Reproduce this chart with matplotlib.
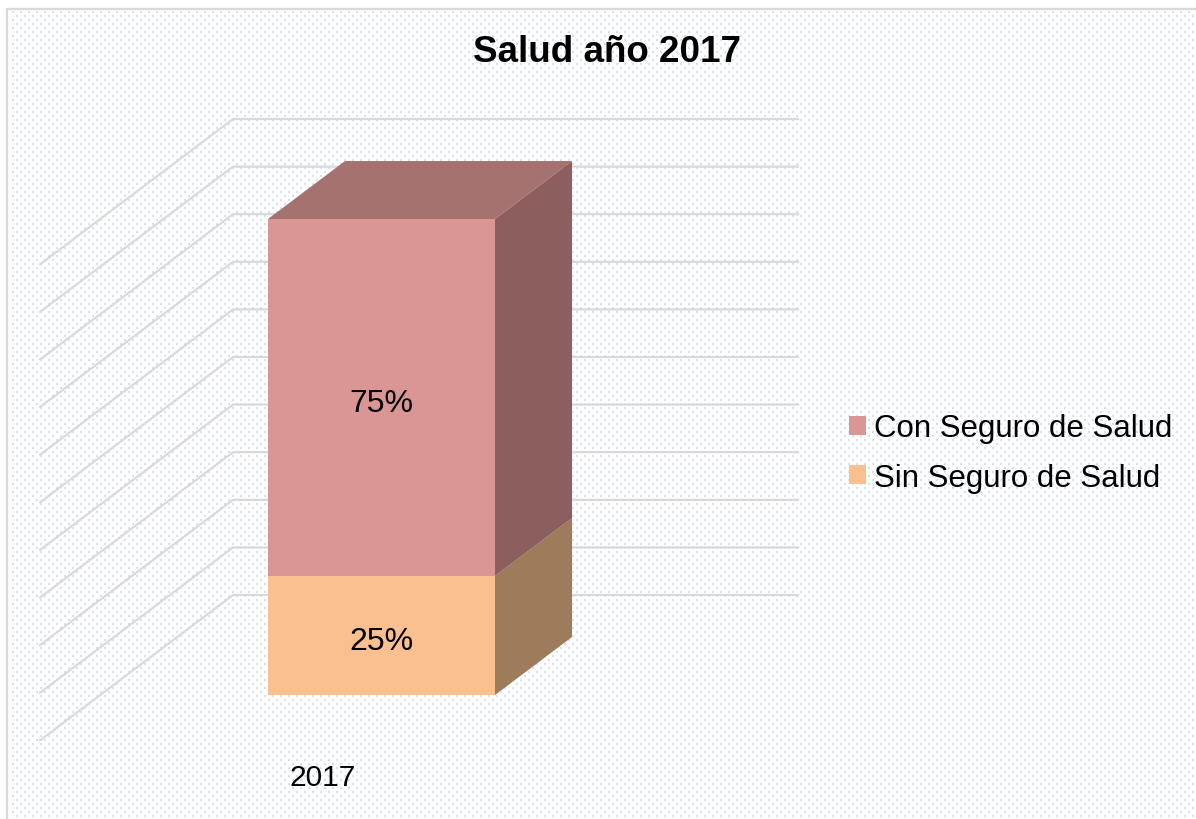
import matplotlib
matplotlib.use('Agg')
import matplotlib.pyplot as plt
import numpy as np
from matplotlib.patches import Polygon, Patch

plt.rcParams['font.family'] = ['Liberation Sans', 'DejaVu Sans']

# ---- data ----
categories = ['2017']
series = ['Sin Seguro de Salud', 'Con Seguro de Salud']
values = [25, 75]
value_labels = ['25%', '75%']
grid_levels = list(range(0, 101, 10))
title = 'Salud año 2017'

# ---- styles ----
front_colors = ['#FAC090', '#D99694']
side_colors = ['#9E7B5A', '#8C5F5E']
top_colors = ['#C49A72', '#A5726F']
grid_color = '#D9D9D9'

W, H = 1196, 820
fig = plt.figure(figsize=(W / 100, H / 100), dpi=100)

# background with dotted texture
bg = fig.add_axes([0, 0, 1, 1])
img = np.ones((H, W, 3))
yy, xx = np.mgrid[0:H, 0:W]
mask = ((yy % 4) < 2) & (((xx + ((yy // 4) % 2) * 4) % 8) < 2) & (xx >= 10) & (yy >= 12)
img[mask] = np.array([210, 224, 242]) / 255
bg.imshow(img, extent=(0, W, H, 0), interpolation='nearest', aspect='auto')
bg.set_xlim(0, W)
bg.set_ylim(H, 0)
bg.axis('off')
bg.plot([7, 7, W], [H, 10, 10], color=grid_color, lw=1.6)

# main axes (oblique 3D projection)
ax = fig.add_axes([0, 0, 1, 1])
ax.patch.set_alpha(0)
ax.axis('off')
ax.set_xlim(-1.6806, 3.5881)
ax.set_ylim(-26.05, 146.22)

DX, DY = 0.3392, 12.18


def proj(x, v, d):
    return (x + DX * d, v + DY * d)


wall_d = 1.725
floor_front_d = -0.78
xw0, xw1 = -1.239, 1.250

for g in grid_levels:
    p0 = proj(xw0, g, floor_front_d)
    p1 = proj(xw0, g, wall_d)
    p2 = proj(xw1, g, wall_d)
    ax.plot([p0[0], p1[0], p2[0]], [p0[1], p1[1], p2[1]], color=grid_color,
            lw=1.6, zorder=1, solid_joinstyle='miter')

handles = []
bottom = 0
for i, (v, name) in enumerate(zip(values, series)):
    ax.bar(0, v, width=1, bottom=bottom, color=front_colors[i], zorder=3, linewidth=0)
    side = [proj(0.5, bottom, 0), proj(0.5, bottom + v, 0),
            proj(0.5, bottom + v, 1), proj(0.5, bottom, 1)]
    ax.add_patch(Polygon(side, closed=True, fc=side_colors[i], ec='none', zorder=3))
    if i == len(values) - 1:
        top = bottom + v
        topf = [proj(-0.5, top, 0), proj(0.5, top, 0), proj(0.5, top, 1), proj(-0.5, top, 1)]
        ax.add_patch(Polygon(topf, closed=True, fc=top_colors[i], ec='none', zorder=3))
    ax.text(0, bottom + v / 2 - 1.2, value_labels[i], ha='center', va='center',
            fontsize=23, color='black', zorder=5)
    handles.append(Patch(facecolor=front_colors[i], edgecolor='none', label=name))
    bottom += v

ax.text(-0.26, -17.3, categories[0], ha='center', va='center', fontsize=21.5, color='black')

fig.text(607 / W, 1 - 62 / H, title, ha='center', va='baseline', fontsize=26.5,
         fontweight='bold', color='black')

leg = fig.legend(handles=handles[::-1], loc='center left',
                 bbox_to_anchor=(836 / W, 1 - 454 / H), frameon=False,
                 fontsize=22.5, handlelength=0.55, handleheight=0.55,
                 handletextpad=0.25, labelspacing=0.62, borderaxespad=0)

fig.savefig('out.png', dpi=100)
